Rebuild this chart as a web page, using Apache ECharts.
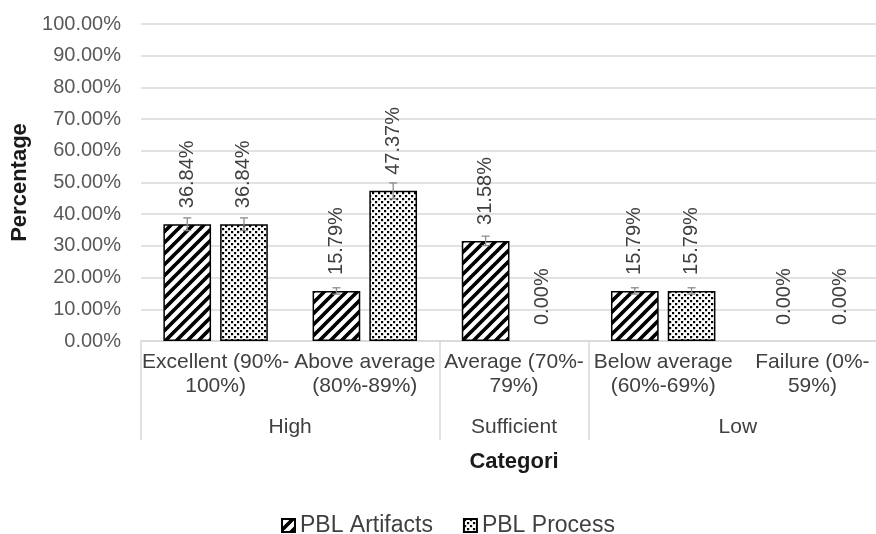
<!DOCTYPE html>
<html><head><meta charset="utf-8">
<script src="https://cdn.jsdelivr.net/npm/echarts@6/dist/echarts.min.js"></script>
<style>html,body{margin:0;padding:0;background:#fff}#c{width:876px;height:534px}</style>
</head><body><div id="c"></div>
<script>
// ---- data ----
const categories = ['Excellent (90%-\n100%)', 'Above average\n(80%-89%)', 'Average (70%-\n79%)', 'Below average\n(60%-69%)', 'Failure (0%-\n59%)'];
const groupLabels = ['High', 'Sufficient', 'Low'];
const groupSpans = [2, 1, 2];
const seriesNames = ['PBL Artifacts', 'PBL Process'];
const artifacts = [36.84, 15.79, 31.58, 15.79, 0];
const processVals = [36.84, 47.37, 0, 15.79, 0];
const artifactsErr = [2.0, 1.0, 1.5, 1.0, 0];
const processErr = [2.0, 2.5, 0, 1.0, 0];
const yMin = 0, yMax = 100, yStep = 10;

// ---- patterns ----
function stripeTile() {
  const s = 11, c = document.createElement('canvas'); c.width = s; c.height = s;
  const g = c.getContext('2d'); g.fillStyle = '#fff'; g.fillRect(0, 0, s, s);
  g.strokeStyle = '#000'; g.lineWidth = 3.7; g.beginPath();
  for (let k = -1; k <= 1; k++) { g.moveTo(k * s - 1, s + 1); g.lineTo(k * s + s + 1, -1); }
  g.stroke(); return c;
}
function dotTile() {
  const s = 6, c = document.createElement('canvas'); c.width = s; c.height = s;
  const g = c.getContext('2d'); g.fillStyle = '#fff'; g.fillRect(0, 0, s, s);
  g.fillStyle = '#000'; g.fillRect(0, 0, 2.2, 2.2); g.fillRect(3, 3, 2.2, 2.2);
  return c;
}

// ---- group axis (second level) built from spans ----
const nHalf = categories.length * 2 + 1;
const groupAxisData = new Array(nHalf).fill('');
const boundaries = [0];
let acc = 0;
groupSpans.forEach((sp, gi) => {
  const start = acc * 2, end = (acc + sp) * 2;
  groupAxisData[(start + end) / 2] = groupLabels[gi];
  acc += sp; boundaries.push(end);
});

const FONT = 'Liberation Sans, Arial, sans-serif';
const CAT_GAP = 0.30, BAR_GAP = 0.19;

function errRender(sIdx) {
  return function (params, api) {
    const i = api.value(0), v = api.value(1), e = api.value(2);
    if (!e) return null;
    const band = api.size([1, 0])[0];
    const barW = band * (1 - CAT_GAP) / (2 + BAR_GAP);
    const off = barW * (1 + BAR_GAP) / 2 * (sIdx === 0 ? -1 : 1);
    const t = api.coord([i, v + e]), b = api.coord([i, v - e]);
    const x = t[0] + off, cap = 4;
    const st = { stroke: '#8c8c8c', lineWidth: 1.3 };
    return { type: 'group', children: [
      { type: 'line', shape: { x1: x, y1: t[1], x2: x, y2: b[1] }, style: st },
      { type: 'line', shape: { x1: x - cap, y1: t[1], x2: x + cap, y2: t[1] }, style: st },
      { type: 'line', shape: { x1: x - cap, y1: b[1], x2: x + cap, y2: b[1] }, style: st }
    ] };
  };
}

const labelCfg = {
  show: true, position: 'top', distance: 16, rotate: 90, align: 'left', verticalAlign: 'middle',
  fontSize: 20, color: '#404040', fontFamily: FONT,
  formatter: p => p.value.toFixed(2) + '%'
};
// zero-height bars get no outline
const toItems = arr => arr.map(v => v === 0 ? { value: v, itemStyle: { borderWidth: 0 } } : v);

const chart = echarts.init(document.getElementById('c'), null, { renderer: 'canvas' });
chart.setOption({
  backgroundColor: '#fff',
  animation: false,
  textStyle: { fontFamily: FONT },
  grid: { left: 141, right: -11, top: 24, bottom: 193, outerBoundsMode: 'none', containLabel: false },
  legend: {
    data: seriesNames, top: 509, left: 276, itemWidth: 13, itemHeight: 13, itemGap: 30,
    icon: 'rect',
    textStyle: { fontSize: 23, color: '#404040', fontFamily: FONT }
  },
  xAxis: [
    {
      type: 'category', data: categories, position: 'bottom',
      axisLine: { show: true, lineStyle: { color: '#d9d9d9', width: 1.5 } },
      axisTick: { show: false },
      axisLabel: { interval: 0, fontSize: 21, lineHeight: 24, color: '#404040', margin: 9, fontFamily: FONT },
      name: 'Categori', nameLocation: 'middle', nameGap: 110,
      nameTextStyle: { fontSize: 22, fontWeight: 'bold', color: '#1a1a1a', fontFamily: FONT, verticalAlign: 'top' }
    },
    {
      type: 'category', data: groupAxisData, position: 'bottom', boundaryGap: false,
      axisLine: { show: false },
      axisTick: { show: true, length: 99, interval: (i) => boundaries.indexOf(i) >= 0, lineStyle: { color: '#d9d9d9', width: 1.5 } },
      axisLabel: { interval: 0, fontSize: 21, color: '#404040', margin: 76, fontFamily: FONT },
      splitLine: { show: false }
    }
  ],
  yAxis: {
    type: 'value', min: yMin, max: yMax, interval: yStep,
    axisLine: { show: false }, axisTick: { show: false },
    splitLine: { lineStyle: { color: '#d9d9d9', width: 1.5 } },
    axisLabel: { fontSize: 20, color: '#595959', margin: 20, formatter: v => v.toFixed(2) + '%', fontFamily: FONT },
    name: 'Percentage', nameLocation: 'middle', nameGap: 103, nameRotate: 90,
    nameTextStyle: { fontSize: 22, fontWeight: 'bold', color: '#1a1a1a', fontFamily: FONT }
  },
  series: [
    {
      name: seriesNames[0], type: 'bar', data: toItems(artifacts), barCategoryGap: '30%', barGap: '19%',
      itemStyle: { color: { image: stripeTile(), repeat: 'repeat' }, borderColor: '#000', borderWidth: 1.5 },
      label: labelCfg, z: 2
    },
    {
      name: seriesNames[1], type: 'bar', data: toItems(processVals), barCategoryGap: '30%', barGap: '19%',
      itemStyle: { color: { image: dotTile(), repeat: 'repeat' }, borderColor: '#000', borderWidth: 1.5 },
      label: labelCfg, z: 2
    },
    {
      type: 'custom', name: 'errA', renderItem: errRender(0), z: 5,
      encode: { x: 0, y: 1 }, data: artifacts.map((v, i) => [i, v, artifactsErr[i]])
    },
    {
      type: 'custom', name: 'errP', renderItem: errRender(1), z: 5,
      encode: { x: 0, y: 1 }, data: processVals.map((v, i) => [i, v, processErr[i]])
    }
  ]
});
</script></body></html>
